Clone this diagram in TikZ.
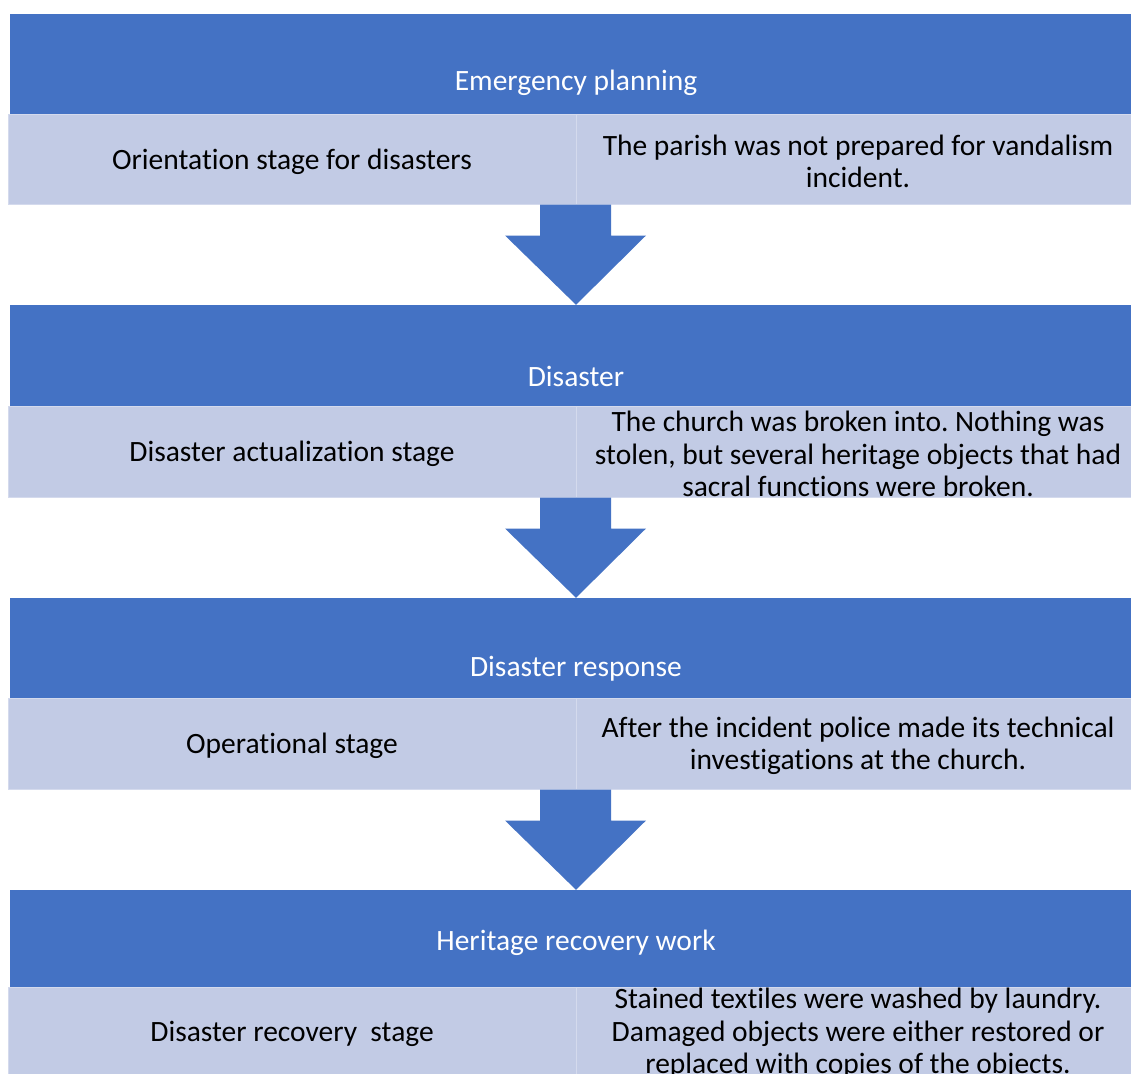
\documentclass[tikz,border=0pt]{standalone}
\usepackage{fontspec}
\setmainfont[Ligatures={NoCommon}]{Carlito}
\frenchspacing
\usetikzlibrary{calc}
\definecolor{bandblue}{RGB}{68,114,196}
\definecolor{celllight}{RGB}{194,203,229}
\definecolor{celledge}{RGB}{212,218,237}
\tikzset{
  blueband/.style={fill=bandblue, draw=none, inner sep=0pt, minimum width=1132pt},
  cell/.style={fill=celllight, draw=celledge, line width=1pt, inner sep=0pt},
  leftcell/.style={cell, minimum width=568pt},
  rightcell/.style={cell, minimum width=564pt},
  titletext/.style={text=white, font=\fontsize{29.5}{32.5}\selectfont, inner sep=0pt},
  celltext/.style={text=black, font=\fontsize{29.5}{32.5}\selectfont, align=center, inner sep=0pt, yshift=-2.5pt},
  flowarrow/.style={fill=bandblue, draw=none}
}
\begin{document}
\begin{tikzpicture}[x=1pt,y=-1pt]
\useasboundingbox (0,0) rectangle (1131,1073);
\clip (0,0) rectangle (1131,1073);
\fill[white] (0,0) rectangle (1131,1073);

% stage 1
\node[blueband, minimum height=100pt] (b1) at (576,64) {};
\node[leftcell, minimum height=90pt] (l1) at (292,159) {};
\node[rightcell, minimum height=90pt] (r1) at (858,159) {};
\node[titletext] (t1) at (576,83) {Emergency planning};
\node[celltext] (lt1) at (l1.center) {Orientation stage for disasters};
\node[celltext] (rt1) at (r1.center) {The parish was not prepared for vandalism\\incident.};

% stage 2
\node[blueband, minimum height=101pt] (b2) at (576,355.5) {};
\node[leftcell, minimum height=91pt] (l2) at (292,451.5) {};
\node[rightcell, minimum height=91pt] (r2) at (858,451.5) {};
\node[titletext] (t2) at (576,376.5) {Disaster};
\node[celltext] (lt2) at (l2.center) {Disaster actualization stage};
\node[celltext] (rt2) at (r2.center) {The church was broken into. Nothing was\\stolen, but several heritage objects that had\\sacral functions were broken.};

% stage 3
\node[blueband, minimum height=100pt] (b3) at (576,648) {};
\node[leftcell, minimum height=91pt] (l3) at (292,743.5) {};
\node[rightcell, minimum height=91pt] (r3) at (858,743.5) {};
\node[titletext] (t3) at (576,669) {Disaster response};
\node[celltext] (lt3) at (l3.center) {Operational stage};
\node[celltext] (rt3) at (r3.center) {After the incident police made its technical\\investigations at the church.};

% stage 4
\node[blueband, minimum height=97pt] (b4) at (576,938.5) {};
\node[leftcell, minimum height=88pt] (l4) at (292,1031) {};
\node[rightcell, minimum height=88pt] (r4) at (858,1031) {};
\node[titletext] (t4) at (576,943) {Heritage recovery work};
\node[celltext] (lt4) at (l4.center) {Disaster recovery~ stage};
\node[celltext] (rt4) at (r4.center) {Stained textiles were washed by laundry.\\Damaged objects were either restored or\\replaced with copies of the objects.};

% block arrows between stages (canvas coordinates: y grows upward)
\foreach \from/\to in {l1/b2, l2/b3, l3/b4}{
  \path let \p1 = (\from.south), \p2 = (\to.north) in
    [flowarrow] (\x2-36pt,\y1) -- (\x2+35pt,\y1) -- (\x2+35pt,\y1-31pt)
    -- (\x2+70pt,\y1-31pt) -- (\x2,\y2) -- (\x2-71pt,\y1-31pt)
    -- (\x2-36pt,\y1-31pt) -- cycle;
}
\end{tikzpicture}
\end{document}
